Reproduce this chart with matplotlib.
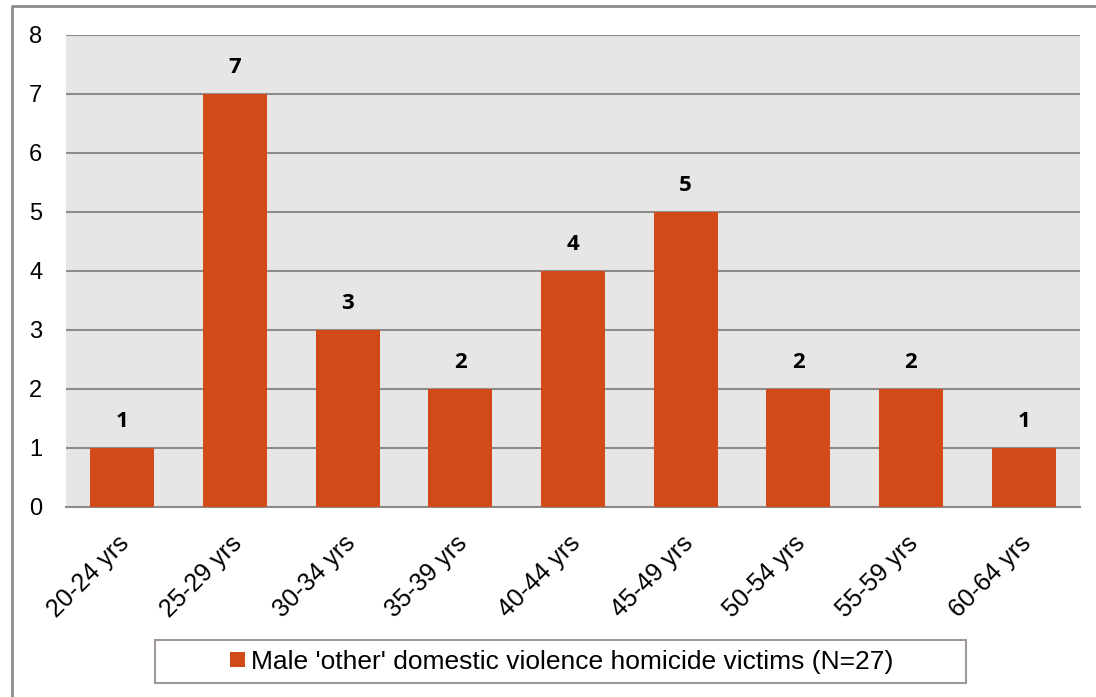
import matplotlib.pyplot as plt
import matplotlib.transforms as mtransforms
from matplotlib.lines import Line2D
from matplotlib.patches import Rectangle
import numpy as np

plt.rcParams['font.family'] = ['Liberation Sans', 'DejaVu Sans']

# data
age_groups = ['20-24 yrs', '25-29 yrs', '30-34 yrs', '35-39 yrs', '40-44 yrs',
              '45-49 yrs', '50-54 yrs', '55-59 yrs', '60-64 yrs']
victims = [1, 7, 3, 2, 4, 5, 2, 2, 1]
series_label = "Male 'other' domestic violence homicide victims (N=27)"
y_ticks = [0, 1, 2, 3, 4, 5, 6, 7, 8]

bar_color = '#D24A17'
grid_color = '#8C8C8C'

fig = plt.figure(figsize=(10.96, 6.97), dpi=100)
ax = fig.add_axes([0.0602, 0.2726, 0.9252, 0.6772])
ax.set_facecolor('#E7E5E6')

x = np.arange(len(age_groups))
bars = ax.bar(x, victims, width=0.57, color=bar_color, zorder=3, label=series_label)

for xi, v in zip(x, victims):
    ax.annotate(str(v), (xi, v), xytext=(0, 19), textcoords='offset points',
                ha='center', va='center', fontsize=16, fontweight='bold',
                family=['Open Sans', 'DejaVu Sans'])

ax.set_xlim(-0.5, len(age_groups) - 0.5)
ax.set_ylim(0, 8)
ax.set_yticks(y_ticks)
ax.set_yticklabels([str(t) for t in y_ticks], fontsize=17)
ax.yaxis.grid(True, color=grid_color, linewidth=1.5, zorder=0)
ax.set_axisbelow(True)
ax.tick_params(axis='y', length=0, pad=17)
ax.tick_params(axis='x', length=0, pad=10)
ax.set_xticks(x)
ax.set_xticklabels(age_groups, rotation=45, ha='right', rotation_mode='anchor',
                   fontsize=18)
# nudge the slanted labels down-left a little
shift = mtransforms.ScaledTranslation(-0.05, -0.10, fig.dpi_scale_trans)
for lbl in ax.get_xticklabels():
    lbl.set_transform(lbl.get_transform() + shift)

for s in ['left', 'right', 'top']:
    ax.spines[s].set_visible(False)
ax.spines['bottom'].set_color(grid_color)
ax.spines['bottom'].set_linewidth(1.5)

# legend: box drawn separately so it can be as wide as the original
fig.add_artist(Rectangle((0.1414, 0.0201), 0.74, 0.0617, transform=fig.transFigure,
                         facecolor='white', edgecolor='#A09898', linewidth=1.5))
leg = fig.legend(handles=[bars], labels=[series_label],
                 loc='center', bbox_to_anchor=(0.5128, 0.0509),
                 prop={'size': 19},
                 frameon=False, handlelength=0.55, handleheight=0.5, handletextpad=0.25)

# outer chart frame (left and top edges visible)
fig.add_artist(Line2D([0.0105, 0.0105, 1.0], [0.0, 0.9914, 0.9914],
                      transform=fig.transFigure, color='#8C8C8C', linewidth=2))

fig.savefig('out.png', dpi=100)
